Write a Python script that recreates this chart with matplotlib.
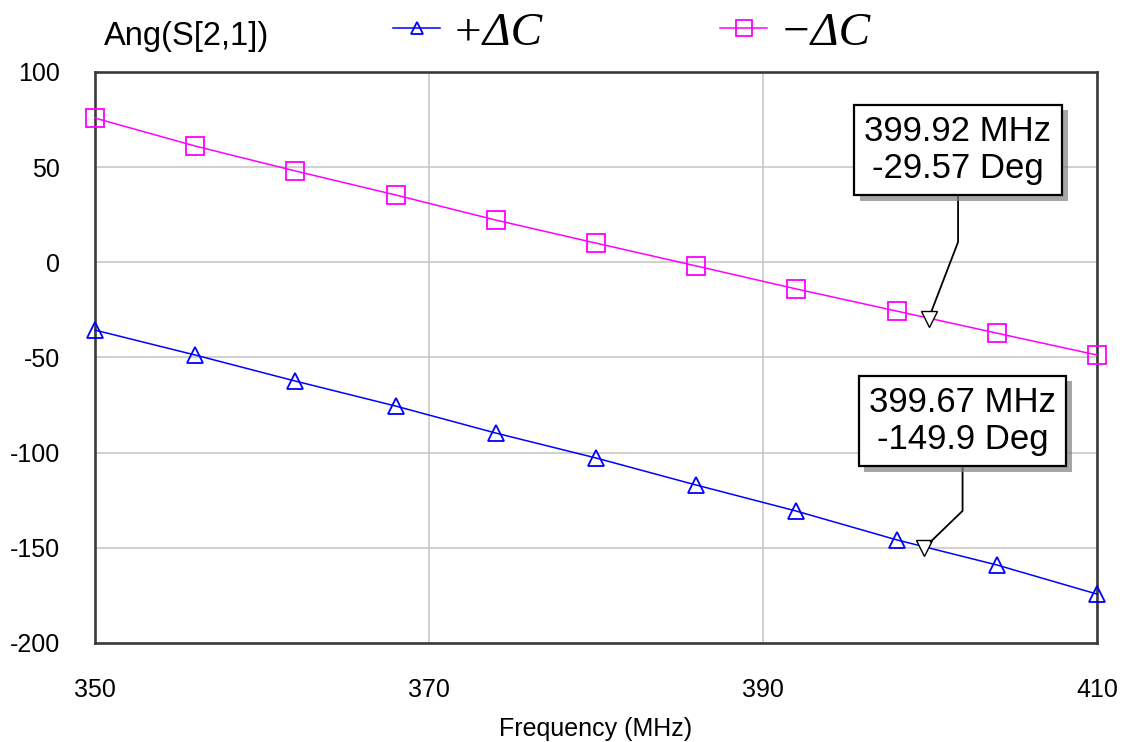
import matplotlib
matplotlib.use("Agg")
import matplotlib.pyplot as plt
import matplotlib.patheffects as pe

# Frequency points where the markers sit (MHz)
freq = [350, 356, 362, 368, 374, 380, 386, 392, 398, 404, 410]

# Ang(S[2,1]) in degrees
plus_dc = [-35.6, -48.7, -62.4, -75.5, -89.7, -102.8, -117.0, -130.7, -145.8, -159.0, -174.3]
minus_dc = [75.8, 61.1, 48.0, 35.4, 22.2, 10.1, -1.9, -14.0, -25.6, -37.2, -48.7]

# marker readouts
mk_freq = [399.67, 399.92]
mk_ang = [-149.9, -29.57]
mk_text = ["399.67 MHz\n-149.9 Deg", "399.92 MHz\n-29.57 Deg"]
mk_box = [(401.95, -83.4), (401.68, 59.0)]
mk_angle = [44, 69]

x_ticks = [350, 370, 390, 410]
y_ticks = [100, 50, 0, -50, -100, -150, -200]

plt.rcParams['font.family'] = ['Liberation Sans', 'DejaVu Sans']
plt.rcParams['axes.unicode_minus'] = False

fig = plt.figure(figsize=(11.23, 7.42), dpi=100)
ax = fig.add_axes([95/1123, 1-643/742, (1097-95)/1123, (643-72)/742])

l1, = ax.plot(freq, plus_dc, color='#0000ff', lw=1.1, marker='^', ms=11,
              mfc='none', mec='#0000ff', mew=1.3, clip_on=False, zorder=3)
l2, = ax.plot(freq, minus_dc, color='#ff00ff', lw=1.1, marker='s', ms=13,
              mfc='none', mec='#ff00ff', mew=1.3, clip_on=False, zorder=3)

ax.plot(mk_freq, mk_ang, ls='none', marker='v', ms=11, mfc='white',
        mec='black', mew=1.0, zorder=4)

for i in range(len(mk_text)):
    ann = ax.annotate(mk_text[i], xy=(mk_freq[i], mk_ang[i]), xytext=mk_box[i],
                      ha='center', va='center', fontsize=25, color='black',
                      multialignment='center', linespacing=1.15,
                      bbox=dict(boxstyle='square,pad=0.3', fc='white', ec='black', lw=1.6),
                      arrowprops=dict(arrowstyle='-', color='black', lw=1.3,
                                      relpos=(0.5, 0), shrinkA=0, shrinkB=6,
                                      connectionstyle='angle,angleA=90,angleB=%d,rad=0' % mk_angle[i]),
                      zorder=5)
    ann.get_bbox_patch().set_path_effects([
        pe.SimplePatchShadow(offset=(4, -4), shadow_rgbFace='gray', alpha=0.7),
        pe.Normal()])

ax.set_xlim(350, 410)
ax.set_ylim(-200, 100)
ax.set_xticks(x_ticks)
ax.set_yticks(y_ticks)
ax.grid(True, color='#c8c8c8', lw=1.2)
ax.set_axisbelow(True)
ax.tick_params(length=0, labelsize=18, pad=25)
ax.tick_params(axis='x', pad=25)
for s in ax.spines.values():
    s.set_color('#3a3a3a')
    s.set_linewidth(1.9)

ax.set_xlabel('Frequency (MHz)', fontsize=18, labelpad=11)

fig.text(104/1123, 1-45/742, 'Ang(S[2,1])', fontsize=23.5, va='baseline', ha='left')

l1.set_label('+\u0394C')
l2.set_label('\u2212\u0394C')
leg = fig.legend(handles=[l1, l2], loc='center left', ncol=2, frameon=False,
                 bbox_to_anchor=(393/1123, 1-33/742), borderpad=0, borderaxespad=0,
                 handlelength=1.0, handletextpad=0.25, columnspacing=3.75,
                 markerscale=0.85,
                 prop=dict(family='Liberation Serif', style='italic', size=34))

fig.savefig('out.png', dpi=100)
